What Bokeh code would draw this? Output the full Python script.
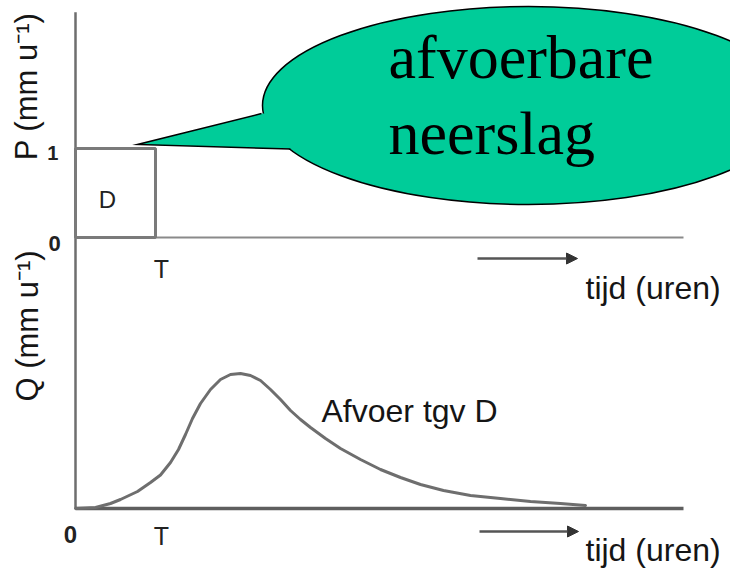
import math

from bokeh.core.properties import value
from bokeh.embed import file_html
from bokeh.models import Arrow, NormalHead, Range1d
from bokeh.plotting import figure
from bokeh.resources import INLINE

# --- data -------------------------------------------------------------
# effective rainfall block: intensity P (mm/h) during duration T (h)
rain_rate = 1.0
rain_duration = 2.0

# discharge hydrograph Q (mm/h) caused by that block
hours = [0, 0.5, 0.875, 1.125, 1.55, 1.875, 2.125, 2.375, 2.575, 2.75, 2.925,
         3.125, 3.375, 3.625, 3.875, 4.125, 4.375, 4.625, 4.875, 5.125, 5.375,
         5.625, 5.875, 6.25, 6.625, 7.125, 7.625, 8.125, 8.625, 9.2, 9.875,
         10.625, 11.375, 12.125, 12.75]
discharge = [0, 0.004, 0.02, 0.036, 0.068, 0.104, 0.134, 0.184, 0.236, 0.296,
             0.36, 0.42, 0.476, 0.516, 0.536, 0.54, 0.532, 0.512, 0.476, 0.436,
             0.392, 0.356, 0.324, 0.28, 0.24, 0.196, 0.156, 0.124, 0.096, 0.072,
             0.052, 0.04, 0.028, 0.02, 0.012]

p_label = "P (mm u\u207b\u00b9)"
q_label = "Q (mm u\u207b\u00b9)"
time_label = "tijd (uren)"
curve_label = "Afvoer tgv D"
block_label = "D"
duration_tick = "T"
balloon_lines = ["afvoerbare", "neerslag"]

SANS = value("Liberation Sans")
SERIF = value("Liberation Serif")
GREEN = "#00cc99"
INK = "#151515"

# --- canvas: upper panel in P units, lower panel in Q units -----------
p = figure(width=730, height=569, output_backend="svg", toolbar_location=None,
           x_range=Range1d(-1.875, 16.375), y_range=Range1d(-3.73, 2.663),
           x_axis_type=None, y_axis_type=None, min_border=0,
           outline_line_color=None, background_fill_color="white")
p.extra_y_ranges = {"q": Range1d(-0.244, 2.032)}
p.grid.visible = False

t_end = 15.2

# axis lines of both panels
p.segment(x0=[0], y0=[0], x1=[0], y1=[2.53], line_color="#6e6e6e", line_width=2.5)
p.segment(x0=[0], y0=[0], x1=[0], y1=[1.09], line_color="#6e6e6e", line_width=2.5,
          y_range_name="q")
p.segment(x0=[0], y0=[0], x1=[t_end], y1=[0], line_color="#8a8a8a", line_width=2)
p.segment(x0=[0], y0=[0], x1=[t_end], y1=[0], line_color="#5e5e5e", line_width=3.5,
          y_range_name="q")

# rainfall block
p.quad(left=[0], right=[rain_duration], bottom=[0], top=[rain_rate],
       fill_color=None, line_color="#7a7a7a", line_width=3)

# hydrograph
p.line(hours, discharge, y_range_name="q", line_color="#6e6e6e", line_width=3,
       line_join="round", line_cap="round")

# speech balloon
p.ellipse(x=[11.325], y=[1.483], width=[532], height=[198], width_units="screen",
          height_units="screen", fill_color=GREEN, line_color="black", line_width=1.5)
tail_x = [1.55, 4.65, 5.75, 5.75, 5.375]
tail_y = [1.045, 1.393, 1.393, 1.022, 0.994]
p.patch(tail_x, tail_y, fill_color=GREEN, line_color=None)
p.line([tail_x[1], tail_x[0], tail_x[4]], [tail_y[1], tail_y[0], tail_y[4]],
       line_color="black", line_width=1.5, line_join="miter")
p.text(x=[7.825, 7.825], y=[2.03, 1.176], text=balloon_lines, text_font=SERIF,
       text_font_size="62px", text_color="black", text_align="left",
       text_baseline="middle")

# axis titles
p.text(x=[-1.225], y=[1.697], text=[p_label], angle=math.pi / 2, text_font=SANS,
       text_font_size="31px", text_color=INK, text_align="center",
       text_baseline="middle")
p.text(x=[-1.2], y=[0.73], text=[q_label], angle=math.pi / 2, text_font=SANS,
       text_font_size="31px", text_color=INK, text_align="center",
       text_baseline="middle", y_range_name="q")

# tick labels
p.text(x=[-0.43], y=[rain_rate], text=["1"], text_font=SANS, text_font_size="20px",
       text_font_style="bold", text_color="#222222", text_align="right",
       text_baseline="middle", y_offset=4)
p.text(x=[-0.37], y=[0], text=["0"], text_font=SANS, text_font_size="22px",
       text_font_style="bold", text_color="#222222", text_align="right",
       text_baseline="middle", y_offset=6)
p.text(x=[0], y=[0], text=["0"], text_font=SANS, text_font_size="24px",
       text_font_style="bold", text_color="#222222", text_align="center",
       text_baseline="middle", x_offset=-5, y_offset=26, y_range_name="q")
p.text(x=[rain_duration], y=[0], text=[duration_tick], text_font=SANS,
       text_font_size="25px", text_color="#222222", text_align="center",
       text_baseline="middle", x_offset=6, y_offset=31)
p.text(x=[rain_duration], y=[0], text=[duration_tick], text_font=SANS,
       text_font_size="25px", text_color="#222222", text_align="center",
       text_baseline="middle", x_offset=6, y_offset=27, y_range_name="q")

# labels inside the panels
p.text(x=[rain_duration / 2], y=[rain_rate / 2], text=[block_label], text_font=SANS,
       text_font_size="24px", text_color="#222222", text_align="center",
       text_baseline="middle", x_offset=-8, y_offset=6)
p.text(x=[6.15], y=[0.389], text=[curve_label], text_font=SANS,
       text_font_size="32px", text_color=INK, text_align="left",
       text_baseline="middle", y_range_name="q")

# time arrows and their labels
head = dict(size=11, fill_color="#333333", line_color="#333333")
p.add_layout(Arrow(end=NormalHead(**head), x_start=10.05, y_start=-0.236,
                   x_end=12.55, y_end=-0.236, line_color="#555555", line_width=2.5))
p.add_layout(Arrow(end=NormalHead(**head), x_start=10.1, y_start=-0.092,
                   x_end=12.575, y_end=-0.092, line_color="#555555", line_width=2.5,
                   y_range_name="q"))
p.text(x=[12.75], y=[-0.564], text=[time_label], text_font=SANS,
       text_font_size="32px", text_color=INK, text_align="left",
       text_baseline="middle")
p.text(x=[12.75], y=[-0.165], text=[time_label], text_font=SANS,
       text_font_size="32px", text_color=INK, text_align="left",
       text_baseline="middle", y_range_name="q")

open("out.html", "w").write(file_html(p, INLINE))
